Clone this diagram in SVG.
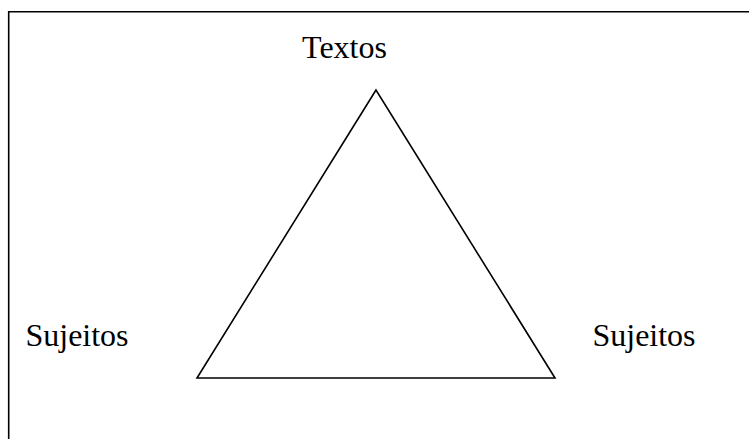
<svg xmlns="http://www.w3.org/2000/svg" width="749" height="439" viewBox="0 0 749 439">
<style>
.lbl{font-family:"Liberation Serif","Times New Roman",serif;font-size:32px;fill:#000}
.ln{fill:none;stroke:#000;stroke-width:1.6}
</style>
<rect width="749" height="439" fill="#fff"/>
<path class="ln" d="M8.7,439 V11.8 H749"/>
<g id="connectors">
<polygon class="ln" points="376,90 197,378 555,378" stroke-linejoin="miter"/>
</g>
<g id="textos"><text class="lbl" x="344.5" y="58" text-anchor="middle">Textos</text></g>
<g id="sujeitos-left"><text class="lbl" x="77" y="346" text-anchor="middle">Sujeitos</text></g>
<g id="sujeitos-right"><text class="lbl" x="644" y="346" text-anchor="middle">Sujeitos</text></g>
</svg>
